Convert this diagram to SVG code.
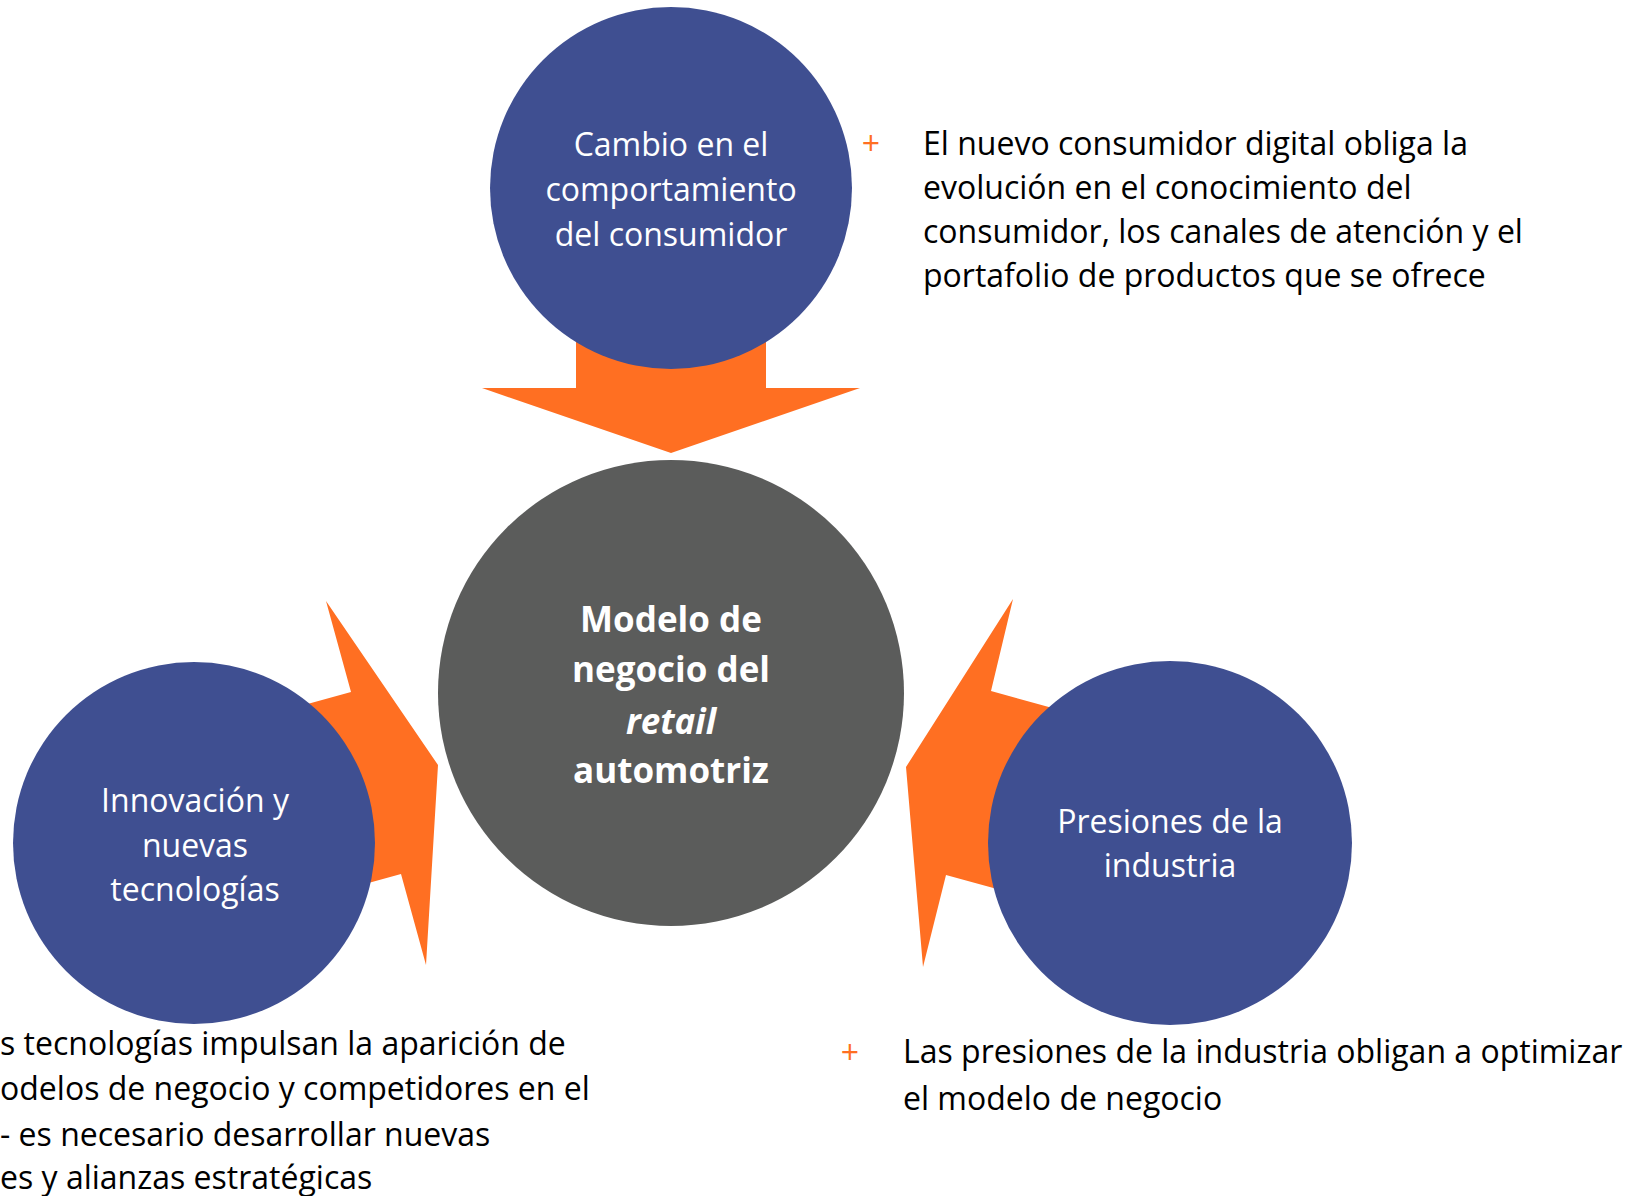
<svg xmlns="http://www.w3.org/2000/svg" width="1652" height="1196" viewBox="0 0 1652 1196">
<style>
.blue{fill:#3F4F91}
.grey{fill:#5B5C5B}
.arrow{fill:#FF6F22}
.ct{font-family:"Open Sans","Liberation Sans",sans-serif;font-size:32px;fill:#FFFFFF;text-anchor:middle}
.cb{font-family:"Open Sans","Liberation Sans",sans-serif;font-size:35px;font-weight:bold;fill:#FFFFFF;text-anchor:middle}
.body{font-family:"Open Sans","Liberation Sans",sans-serif;font-size:32px;fill:#000000}
.plus{font-family:"Open Sans","Liberation Sans",sans-serif;font-size:32px;fill:#FF6F22;text-anchor:middle}
</style>
<rect width="1652" height="1196" fill="#FFFFFF"/>
<g id="connectors">
<polygon class="arrow" points="576,300 766,300 766,388 860,388 671,453 482,388 576,388"/>
<polygon class="arrow" points="235,724 351,692 326,601 438,765 426,965 401,874 285,906"/>
<polygon class="arrow" points="1107,723 991,691 1013,599 906,767 923,967 946,875 1062,907"/>
</g>
<g id="node-consumidor">
<circle class="blue" cx="671" cy="188" r="181"/>
<text class="ct" x="671" y="156">Cambio en el</text>
<text class="ct" x="671" y="201">comportamiento</text>
<text class="ct" x="671" y="246">del consumidor</text>
</g>
<g id="node-modelo">
<circle class="grey" cx="671" cy="693" r="233"/>
<text class="cb" x="671" y="632">Modelo de</text>
<text class="cb" x="671" y="682">negocio del</text>
<text class="cb" x="671" y="734" font-style="italic">retail</text>
<text class="cb" x="671" y="783">automotriz</text>
</g>
<g id="node-innovacion">
<circle class="blue" cx="194" cy="843" r="181"/>
<text class="ct" x="195" y="812">Innovación y</text>
<text class="ct" x="195" y="857">nuevas</text>
<text class="ct" x="195" y="901">tecnologías</text>
</g>
<g id="node-presiones">
<circle class="blue" cx="1170" cy="843" r="182"/>
<text class="ct" x="1170" y="833">Presiones de la</text>
<text class="ct" x="1170" y="877">industria</text>
</g>
<g id="note-consumidor">
<text class="plus" x="871" y="155">+</text>
<text class="body" x="923" y="155">El nuevo consumidor digital obliga la</text>
<text class="body" x="923" y="199">evolución en el conocimiento del</text>
<text class="body" x="923" y="243">consumidor, los canales de atención y el</text>
<text class="body" x="923" y="287">portafolio de productos que se ofrece</text>
</g>
<g id="note-innovacion">
<text class="body" x="0" y="1055">s tecnologías impulsan la aparición de</text>
<text class="body" x="0" y="1100">odelos de negocio y competidores en el</text>
<text class="body" x="0" y="1146">- es necesario desarrollar nuevas</text>
<text class="body" x="0" y="1189">es y alianzas estratégicas</text>
</g>
<g id="note-presiones">
<text class="plus" x="850" y="1064">+</text>
<text class="body" x="903" y="1063">Las presiones de la industria obligan a optimizar</text>
<text class="body" x="903" y="1110">el modelo de negocio</text>
</g>
</svg>
